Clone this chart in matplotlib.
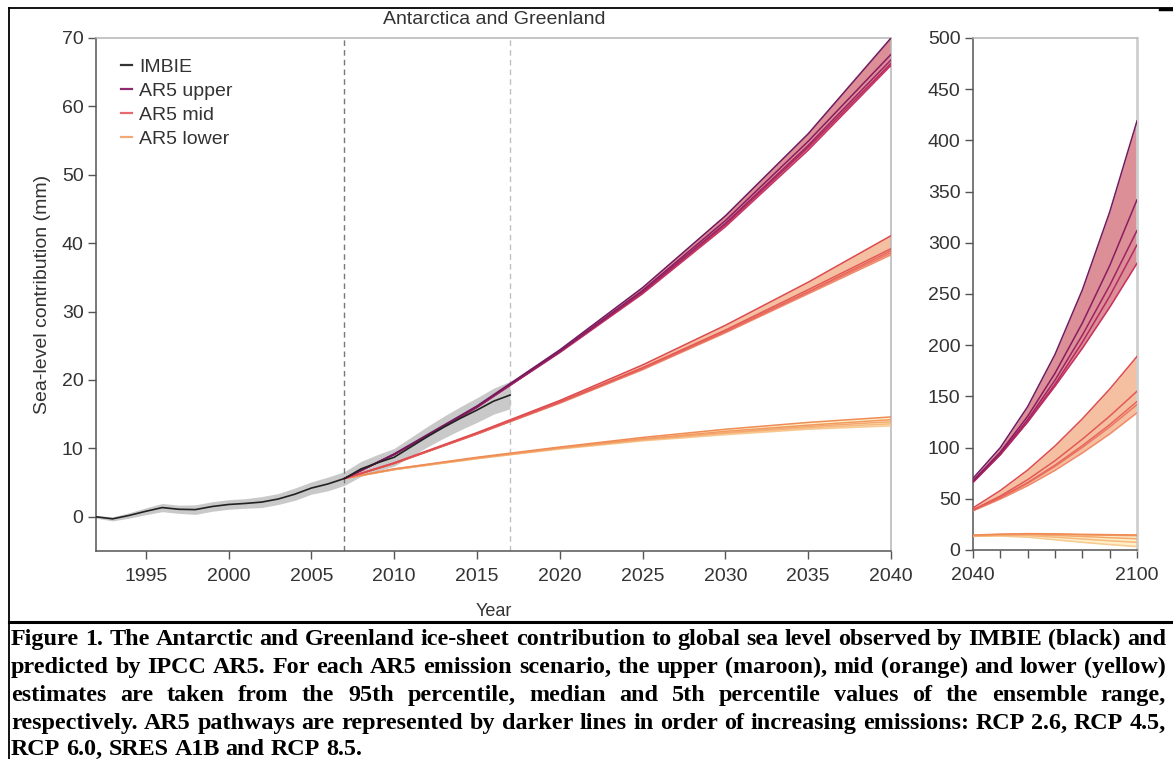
import numpy as np
import matplotlib
matplotlib.use("Agg")
import matplotlib.pyplot as plt
from matplotlib.font_manager import FontProperties
from matplotlib.lines import Line2D

W, H, DPI = 1173, 759, 100

# IMBIE observed ice-sheet contribution (mm) and its uncertainty half-width
imbie_year = list(range(1992, 2018))
imbie_mm = [0.0, -0.3, 0.2, 0.8, 1.35, 1.1, 1.05, 1.5, 1.8, 1.95, 2.15, 2.6, 3.3,
            4.2, 4.8, 5.6, 7.0, 7.9, 8.7, 10.2, 11.7, 13.1, 14.4, 15.6, 16.9, 17.8]
imbie_err = [0.2, 0.3, 0.4, 0.5, 0.6, 0.6, 0.7, 0.7, 0.7, 0.7, 0.8, 0.8, 0.9,
             0.9, 1.0, 1.0, 1.1, 1.2, 1.3, 1.4, 1.5, 1.6, 1.7, 1.8, 1.9, 2.0]

# AR5 pathways, one row per scenario (increasing emissions)
ar5_year = [2007, 2010, 2015, 2020, 2025, 2030, 2035, 2040,
            2050, 2060, 2070, 2080, 2090, 2100]
scenarios = ["RCP 2.6", "RCP 4.5", "RCP 6.0", "SRES A1B", "RCP 8.5"]
ar5_upper = [
    [5.6, 9.1, 16.0, 24.0, 32.6, 42.4, 53.6, 66.0, 93.0, 125.0, 160.0, 197.0, 237.0, 280.0],
    [5.6, 9.1, 16.0, 24.1, 32.8, 42.7, 54.0, 66.3, 93.3, 125.3, 161.8, 202.8, 247.8, 298.0],
    [5.6, 9.1, 16.0, 24.1, 32.9, 42.9, 54.3, 66.8, 94.3, 127.3, 165.8, 209.8, 258.3, 312.0],
    [5.6, 9.1, 16.1, 24.2, 33.1, 43.3, 54.9, 67.6, 95.6, 130.6, 172.6, 221.6, 277.6, 342.0],
    [5.6, 9.2, 16.2, 24.4, 33.5, 44.0, 56.0, 70.0, 100.0, 140.0, 191.0, 254.0, 330.0, 419.0],
]
ar5_mid = [
    [5.6, 7.8, 12.1, 16.6, 21.5, 26.9, 32.6, 38.3, 49.8, 62.8, 77.8, 94.8, 113.3, 134.0],
    [5.6, 7.8, 12.1, 16.7, 21.6, 27.0, 32.8, 38.6, 50.6, 65.1, 81.6, 100.1, 120.1, 142.0],
    [5.6, 7.8, 12.1, 16.7, 21.7, 27.1, 32.9, 38.9, 51.4, 65.9, 82.9, 101.9, 122.4, 145.0],
    [5.6, 7.8, 12.2, 16.8, 21.8, 27.3, 33.2, 39.2, 52.7, 68.7, 87.2, 108.2, 130.7, 155.0],
    [5.6, 7.9, 12.3, 17.0, 22.2, 28.0, 34.3, 41.1, 58.1, 78.1, 101.6, 128.1, 157.1, 189.0],
]
ar5_lower = [
    [5.6, 6.9, 8.5, 9.9, 11.1, 12.0, 12.8, 13.3, 13.6, 12.5, 10.0, 7.5, 5.3, 3.3],
    [5.6, 6.9, 8.5, 10.0, 11.2, 12.2, 13.0, 13.6, 14.3, 14.0, 12.5, 10.8, 9.0, 7.5],
    [5.6, 6.9, 8.6, 10.0, 11.3, 12.3, 13.2, 13.9, 14.8, 15.0, 14.2, 13.2, 12.0, 11.0],
    [5.6, 7.0, 8.6, 10.1, 11.4, 12.5, 13.4, 14.2, 15.2, 15.6, 15.3, 14.8, 14.4, 14.0],
    [5.6, 7.0, 8.7, 10.2, 11.6, 12.8, 13.8, 14.6, 15.5, 16.0, 15.8, 15.3, 15.0, 14.7],
]

caption_lines = [
    "Figure 1. The Antarctic and Greenland ice-sheet contribution to global sea level observed by IMBIE (black) and",
    "predicted by IPCC AR5. For each AR5 emission scenario, the upper (maroon), mid (orange) and lower (yellow)",
    "estimates are taken from the 95th percentile, median and 5th percentile values of the ensemble range,",
    "respectively. AR5 pathways are represented by darker lines in order of increasing emissions: RCP 2.6, RCP 4.5,",
    "RCP 6.0, SRES A1B and RCP 8.5.",
]

TIERS = [
    # rows, fill colour, line shades (light -> dark)
    (ar5_lower, "#fdf0c6", ["#f8c991", "#f6b87e", "#f4a870", "#f29a62", "#ef8c56"]),
    (ar5_mid, "#f5c0a2", ["#f08c6c", "#ec7864", "#e8675d", "#e35956", "#dd4b50"]),
    (ar5_upper, "#dc8f96", ["#c8335f", "#b42b62", "#a02363", "#8a1c62", "#711a5f"]),
]

plt.rcParams["font.family"] = ["Liberation Sans", "DejaVu Sans"]
TXT = "#333333"

fig = plt.figure(figsize=(W / DPI, H / DPI), dpi=DPI)


def px_axes(x0, y0, x1, y1):
    return fig.add_axes([x0 / W, 1 - y1 / H, (x1 - x0) / W, (y1 - y0) / H])


def style(ax):
    for s in ("left", "bottom"):
        ax.spines[s].set_color("#555555")
        ax.spines[s].set_linewidth(1.1)
    for s in ("top", "right"):
        ax.spines[s].set_color("#b5b5b5")
        ax.spines[s].set_linewidth(1.1)
    ax.tick_params(direction="out", length=6, width=1.0, color="#555555",
                   labelcolor=TXT, labelsize=14)
    ax.tick_params(axis="x", pad=6)
    ax.tick_params(axis="y", pad=3)


def draw_ar5(ax):
    for rows, fill, shades in TIERS:
        arr = np.array(rows, dtype=float)
        ax.fill_between(ar5_year, arr.min(axis=0), arr.max(axis=0),
                        color=fill, lw=0, zorder=2)
        for row, c in zip(rows, shades):
            ax.plot(ar5_year, row, color=c, lw=1.1, zorder=3)


# ---- main panel 1992-2040
ax = px_axes(96, 38, 891, 551)
style(ax)
lo = np.array(imbie_mm) - np.array(imbie_err)
hi = np.array(imbie_mm) + np.array(imbie_err)
ax.fill_between(imbie_year, lo, hi, color="#c9c9c9", lw=0, zorder=1)
ax.axvline(2007, color="#777777", lw=1.0, ls=(0, (4, 3)), zorder=1.5)
ax.axvline(2017, color="#c0c0c0", lw=1.0, ls=(0, (4, 3)), zorder=1.5)
draw_ar5(ax)
ax.plot(imbie_year, imbie_mm, color="#222222", lw=1.2, zorder=4)
ax.set_xlim(1992, 2040)
ax.set_ylim(-5, 70)
ax.set_xticks(range(1995, 2041, 5))
ax.set_yticks(range(0, 71, 10))
ax.set_ylabel("Sea-level contribution (mm)", fontsize=14, color=TXT, labelpad=8)

handles = [Line2D([], [], color=c, lw=1.6) for c in
           ("#333333", "#8e2a6e", "#e66a6f", "#f4a878")]
ax.legend(handles, ["IMBIE", "AR5 upper", "AR5 mid", "AR5 lower"],
          loc="upper left", bbox_to_anchor=(0.022, 0.975), frameon=False,
          fontsize=14, handlelength=0.55, handletextpad=0.35,
          labelspacing=0.32, borderaxespad=0.0, labelcolor=TXT)

# ---- extension panel 2040-2100
ax2 = px_axes(973, 38, 1137, 550)
style(ax2)
ax2.spines["right"].set_linewidth(2.0)
ax2.spines["right"].set_color("#cfcfcf")
draw_ar5(ax2)
ax2.set_xlim(2040, 2100)
ax2.set_ylim(0, 500)
ax2.set_xticks(range(2040, 2101, 10))
ax2.set_xticklabels(["2040", "", "", "", "", "", "2100"])
ax2.set_yticks(range(0, 501, 50))

fig.text(494 / W, 1 - 20 / H, "Antarctica and Greenland", ha="center",
         va="center", fontsize=14, color=TXT)
fig.text(494 / W, 1 - 611 / H, "Year", ha="center", va="center",
         fontsize=13, color=TXT)

# ---- frame around figure and caption
frame = dict(color="black", transform=fig.transFigure, clip_on=False)
fig.add_artist(Line2D([8.5 / W, 1], [1 - 7.5 / H] * 2, lw=1.3, **frame))
fig.add_artist(Line2D([1160 / W, 1], [1 - 8.5 / H] * 2, lw=2.5, **frame))
fig.add_artist(Line2D([8.5 / W] * 2, [1 - 7.5 / H, 0], lw=1.3, **frame))
fig.add_artist(Line2D([8.5 / W, 1], [1 - 622 / H] * 2, lw=2.2, **frame))

# ---- justified caption
renderer = fig.canvas.get_renderer()
fp = FontProperties(family="Liberation Serif", weight="bold", size=10)


def width(s, size):
    fp.set_size(size)
    return renderer.get_text_width_height_descent(s, fp, ismath=False)[0]


x_left, x_right = 11, 1166
natural = [width(line, 10) for line in caption_lines]
cap_size = 10 * (x_right - x_left) / max(natural)
space = width("a a", cap_size) - 2 * width("a", cap_size)
baselines = [645, 673, 701, 729, 755]
for i, (line, yb) in enumerate(zip(caption_lines, baselines)):
    words = line.split(" ")
    ww = [width(w, cap_size) for w in words]
    last = i == len(caption_lines) - 1
    gap = space if last else (x_right - x_left - sum(ww)) / (len(words) - 1)
    x = x_left
    for w, wpx in zip(words, ww):
        fig.text(x / W, 1 - yb / H, w, ha="left", va="baseline",
                 fontfamily="Liberation Serif", fontweight="bold",
                 fontsize=cap_size, color="black")
        x += wpx + gap

fig.savefig("out.png", dpi=DPI)
